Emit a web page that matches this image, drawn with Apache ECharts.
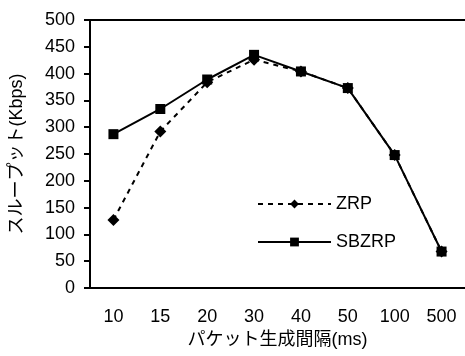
<!DOCTYPE html>
<html>
<head>
<meta charset="utf-8">
<script src="https://cdn.jsdelivr.net/npm/echarts@6/dist/echarts.min.js"></script>
<style>
  html, body { margin: 0; padding: 0; background: #fff; }
  #chart { width: 465px; height: 356px; }
</style>
</head>
<body>
<div id="chart"></div>
<script>
const intervals = ['10', '15', '20', '30', '40', '50', '100', '500'];
const zrp = [127, 292, 384, 426, 404, 373, 248, 68];
const sbzrp = [287, 334, 389, 435, 404, 373, 248, 68];

const font = '"Liberation Sans", Arial, "Noto Sans CJK JP", sans-serif';

let myChart = echarts.init(document.getElementById('chart'));
myChart.setOption({
  animation: false,
  textStyle: { fontFamily: font },
  grid: { left: 84, right: 0, top: 20, bottom: 68 },
  legend: {
    orient: 'vertical',
    left: 252,
    top: 190,
    itemWidth: 73,
    itemHeight: 11,
    itemGap: 20,
    textStyle: { fontSize: 18, color: '#000', fontFamily: font },
    data: ['ZRP', 'SBZRP']
  },
  xAxis: [{
    type: 'category',
    data: intervals,
    boundaryGap: true,
    name: 'パケット生成間隔(ms)',
    nameLocation: 'middle',
    nameGap: 42,
    nameTextStyle: { fontSize: 18, color: '#000', fontFamily: font },
    axisLine: { lineStyle: { color: '#000', width: 2 } },
    axisTick: { inside: true, length: 5, lineStyle: { color: '#000', width: 2 } },
    axisLabel: { fontSize: 18, color: '#000', margin: 20 },
    splitLine: { show: false }
  }, {
    type: 'category',
    data: intervals,
    position: 'top',
    axisLine: { lineStyle: { color: '#000', width: 2 } },
    axisTick: { show: false },
    axisLabel: { show: false }
  }],
  yAxis: {
    type: 'value',
    min: 0,
    max: 500,
    interval: 50,
    name: 'スループット(Kbps)',
    nameLocation: 'middle',
    nameGap: 64,
    nameTextStyle: { fontSize: 18, color: '#000', fontFamily: font },
    axisLine: { show: true, lineStyle: { color: '#000', width: 2 } },
    axisTick: { show: true, length: 6, lineStyle: { color: '#000', width: 2 } },
    axisLabel: { fontSize: 18, color: '#000', margin: 15 },
    splitLine: { show: false }
  },
  series: [{
    name: 'ZRP',
    type: 'line',
    data: zrp,
    symbol: 'diamond',
    symbolSize: 12,
    itemStyle: { color: '#000' },
    lineStyle: { color: '#000', width: 2, type: [5, 5] },
    z: 2
  }, {
    name: 'SBZRP',
    type: 'line',
    data: sbzrp,
    symbol: 'rect',
    symbolSize: 10,
    itemStyle: { color: '#000' },
    lineStyle: { color: '#000', width: 2 },
    z: 3
  }]
});
</script>
</body>
</html>
